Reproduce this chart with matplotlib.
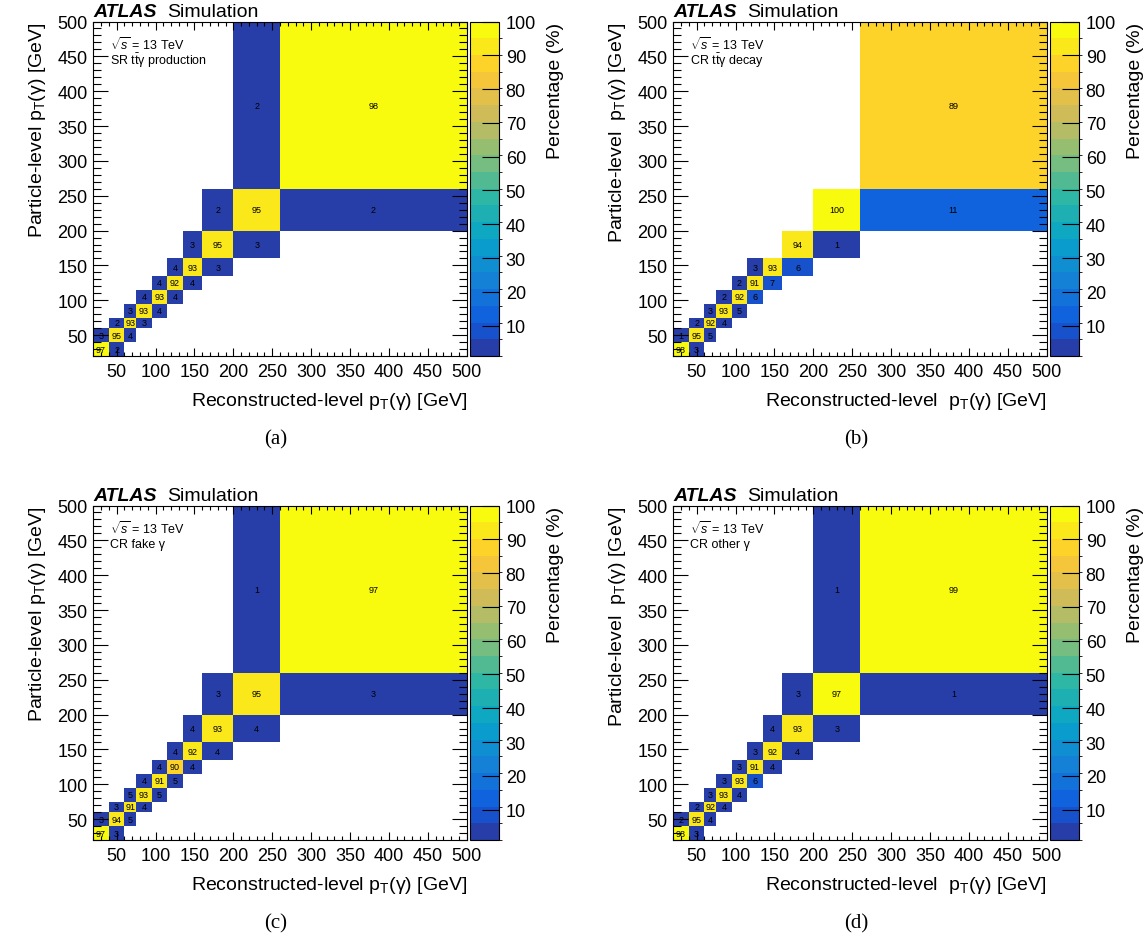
import numpy as np
import matplotlib
matplotlib.use("Agg")
import matplotlib.pyplot as plt
from matplotlib.colors import ListedColormap, BoundaryNorm, LinearSegmentedColormap

plt.rcParams['font.family'] = ['Liberation Sans', 'DejaVu Sans']
plt.rcParams['mathtext.fontset'] = 'custom'
plt.rcParams['mathtext.rm'] = 'Liberation Sans'
plt.rcParams['mathtext.it'] = 'Liberation Sans:italic'
plt.rcParams['mathtext.bf'] = 'Liberation Sans:bold'

# pT(gamma) bin edges [GeV], same for particle and reco level
bin_edges = [20, 40, 60, 75, 95, 115, 135, 160, 200, 260, 500]

# diag[i]  : reco bin i, particle bin i
# upper[i] : reco bin i, particle bin i+1
# lower[i] : reco bin i+1, particle bin i
# 0 = empty cell
sr_diag = [97, 95, 93, 93, 93, 92, 93, 95, 95, 98]
sr_upper = [3, 2, 3, 4, 4, 4, 3, 2, 2]
sr_lower = [2, 4, 3, 4, 4, 4, 3, 3, 2]

dec_diag = [98, 95, 92, 93, 92, 91, 93, 94, 100, 89]
dec_upper = [1, 2, 3, 2, 2, 3, 0, 0, 0]
dec_lower = [3, 5, 4, 5, 6, 7, 6, 1, 11]

fake_diag = [97, 94, 91, 93, 91, 90, 92, 93, 95, 97]
fake_upper = [3, 3, 5, 4, 4, 4, 4, 3, 1]
fake_lower = [3, 5, 4, 5, 5, 4, 4, 4, 3]

other_diag = [98, 95, 92, 93, 93, 91, 92, 93, 97, 99]
other_upper = [2, 2, 3, 3, 3, 3, 4, 3, 1]
other_lower = [3, 4, 4, 4, 6, 4, 4, 3, 1]

region_labels = [r"SR t$\bar{\mathrm{t}}$γ production", r"CR t$\bar{\mathrm{t}}$γ decay",
                 "CR fake γ", "CR other γ"]
sub_labels = ["(a)", "(b)", "(c)", "(d)"]

# ROOT kBird palette
bird_stops = [0.0, 0.125, 0.25, 0.375, 0.5, 0.625, 0.75, 0.875, 1.0]
bird_r = [0.2082, 0.0592, 0.0780, 0.0232, 0.1802, 0.5301, 0.8186, 0.9956, 0.9764]
bird_g = [0.1664, 0.3599, 0.5041, 0.6419, 0.7178, 0.7492, 0.7328, 0.7862, 0.9832]
bird_b = [0.5293, 0.8684, 0.8385, 0.7914, 0.6425, 0.4662, 0.3499, 0.1968, 0.0539]
bird = LinearSegmentedColormap.from_list(
    "bird", list(zip(bird_stops, zip(bird_r, bird_g, bird_b))))
n_cont = 20
levels = np.linspace(1, 100, n_cont + 1)
cmap = ListedColormap([bird((i + 0.99) / n_cont) for i in range(n_cont)])
cmap.set_over(bird(1.0))
norm = BoundaryNorm(levels, n_cont)


def build_matrix(diag, upper, lower):
    n = len(diag)
    m = np.full((n, n), np.nan)  # rows: particle level, cols: reco level
    for i, v in enumerate(diag):
        m[i, i] = v
    for i, v in enumerate(upper):
        if v > 0:
            m[i + 1, i] = v
    for i, v in enumerate(lower):
        if v > 0:
            m[i, i + 1] = v
    return np.ma.masked_invalid(m)


panels = [
    (sr_diag, sr_upper, sr_lower),
    (dec_diag, dec_upper, dec_lower),
    (fake_diag, fake_upper, fake_lower),
    (other_diag, other_upper, other_lower),
]

W, H = 1144, 945
fig = plt.figure(figsize=(W / 100, H / 100), dpi=100)

edges = np.array(bin_edges, dtype=float)
centers = 0.5 * (edges[1:] + edges[:-1])

for k, (diag, upper, lower) in enumerate(panels):
    dx = 580 * (k % 2)
    dy = 484 * (k // 2)
    ax_l, ax_r, ax_t, ax_b = 93.3 + dx, 466.7 + dx, 22.5 + dy, 357.0 + dy
    ax = fig.add_axes([ax_l / W, 1 - ax_b / H, (ax_r - ax_l) / W, (ax_b - ax_t) / H])
    cax = fig.add_axes([(ax_r + 3.5) / W, 1 - ax_b / H, 28.5 / W, (ax_b - ax_t) / H])

    m = build_matrix(diag, upper, lower)
    mesh = ax.pcolormesh(edges, edges, m, cmap=cmap, norm=norm)
    for iy in range(m.shape[0]):
        for ix in range(m.shape[1]):
            if not np.ma.is_masked(m[iy, ix]):
                ax.text(centers[ix], centers[iy], "%d" % m[iy, ix],
                        ha='center', va='center', fontsize=6.5, color='black')

    ax.set_xlim(20, 500)
    ax.set_ylim(20, 500)
    ax.set_xticks(range(50, 501, 50))
    ax.set_yticks(range(50, 501, 50))
    ax.set_xticks(range(20, 501, 10), minor=True)
    ax.set_yticks(range(20, 501, 10), minor=True)
    ax.tick_params(axis='both', which='both', direction='in', top=True, right=True,
                   labelsize=13, width=0.8)
    ax.tick_params(axis='x', which='major', length=6, pad=5)
    ax.tick_params(axis='x', which='minor', length=3)
    ax.tick_params(axis='y', which='major', length=11, pad=4)
    ax.tick_params(axis='y', which='minor', length=5.5)

    sp = "  " if k % 2 == 1 else " "
    ax.set_xlabel("Reconstructed-level" + sp + r"p$_{\mathrm{T}}$(γ) [GeV]",
                  fontsize=14, loc='right', labelpad=7)
    ax.set_ylabel("Particle-level" + sp + r"p$_{\mathrm{T}}$(γ) [GeV]",
                  fontsize=14, loc='top', labelpad=7)

    ax.text(0.0, 1.003, "ATLAS", transform=ax.transAxes,
            fontsize=14, fontweight='bold', style='italic', ha='left', va='bottom')
    ax.text(0.197, 1.003, "Simulation", transform=ax.transAxes,
            fontsize=14, ha='left', va='bottom')
    ax.text(0.045, 0.935, r"$\sqrt{s}$ = 13 TeV", transform=ax.transAxes,
            fontsize=9, ha='left', va='center')
    ax.text(0.045, 0.885, region_labels[k], transform=ax.transAxes,
            fontsize=9, ha='left', va='center')

    cb = fig.colorbar(mesh, cax=cax, ticks=range(10, 101, 10))
    cb.ax.tick_params(direction='in', length=12, width=0.8, labelsize=13, pad=5)
    cb.set_label("Percentage (%)", fontsize=14, loc='top', labelpad=8)
    cb.outline.set_linewidth(0.8)

    fig.text((276 + dx) / W, 1 - (440 + dy) / H, sub_labels[k],
             family='Liberation Serif', fontsize=15, ha='center', va='center')

fig.savefig("out.png", dpi=100)
